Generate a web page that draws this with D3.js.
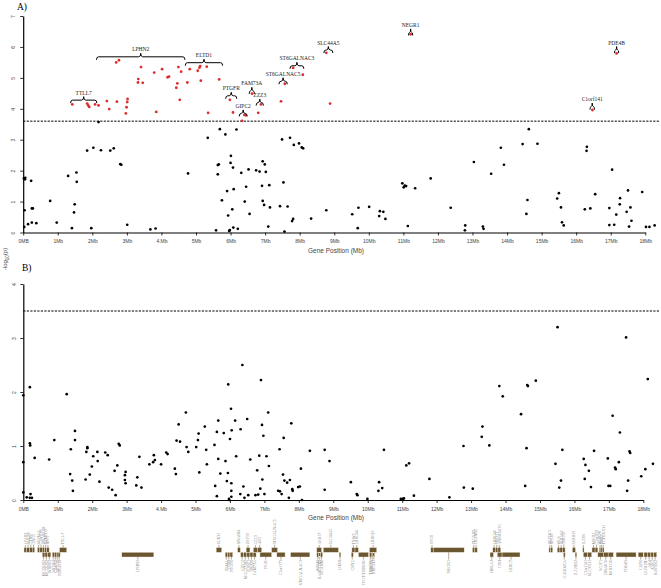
<!DOCTYPE html>
<html>
<head>
<meta charset="utf-8">
<script src="https://cdn.jsdelivr.net/npm/d3@7"></script>
<style>
body { margin: 0; background: #fff; }
svg { display: block; }
.tick text { font-family: "Liberation Sans", Arial, sans-serif; font-size: 5px; fill: #444; }
</style>
</head>
<body>
<svg id="chart" width="661" height="588"></svg>
<script>
// x tick values and their labels (as printed in the figure)
const xTickValues = [0,1,2,3,4,5,6,7,8,9,10,11,12,13,14,15,16,17,18];
const xTickLabels = ["0MB","1Mb","2Mb","3Mb","4.Mb","5Mb","6Mb","7Mb","8Mb","9Mb","10Mb","11Mb","12Mb","13Mb","14Mb","15Mb","16Mb","17Mb","18Mb"];
const yTicksA = [0,1,2,3,4,5,6,7];
const yTicksB = [0,1,2,3,4];
const threshA = 3.6;
const threshB = 3.5;

// panel A: SNPs above threshold (red) [position Mb, -log10 p]
const sigA = [[1.42,4.14],[1.85,4.17],[1.88,4.11],[1.91,4.06],[2.08,4.14],[2.18,4.11],[2.42,4.25],[2.49,3.99],[2.71,4.23],[2.69,5.50],
  [2.77,5.57],[2.97,3.85],[2.99,4.05],[3.02,4.32],[3.01,4.22],[3.41,5.35],[3.33,4.96],[3.32,4.85],[3.46,4.84],[3.79,5.17],
  [3.85,3.90],[4.02,5.28],[4.18,5.02],[4.22,5.04],[4.46,4.82],[4.43,4.68],[4.49,5.35],[4.57,5.20],[4.53,4.29],[4.75,4.85],
  [4.82,5.28],[5.05,5.23],[5.10,5.33],[5.12,5.38],[5.31,5.36],[5.14,4.91],[5.35,3.87],[5.67,4.95],[5.98,4.29],[6.07,3.88],
  [6.40,3.80],[6.44,3.79],[6.33,3.61],[6.62,4.49],[6.80,3.87],[6.88,4.14],[7.46,4.24],[7.57,4.81],[7.81,5.32],[8.09,5.10],
  [8.77,5.81],[8.88,4.17],[11.21,6.41],[17.17,5.79],[16.47,3.96]];

// panel A: other SNPs (black)
const otherA = [[2.18,3.57],[5.34,3.06],[5.69,3.34],[5.85,3.17],[6.17,3.33],[7.49,3.01],[7.72,3.06],[14.63,3.34],
  [0.02,1.75],[0.05,1.72],[0.06,1.77],[0.04,0.72],[0.03,0.18],[0.14,0.27],[0.23,1.67],[0.25,0.78],[0.28,0.78],[0.25,0.32],
  [0.38,0.30],[0.78,1.02],[0.97,0.32],[1.30,1.83],[1.41,0.14],[1.47,0.65],[1.49,0.91],[1.54,1.94],[1.55,1.64],[1.85,2.65],
  [1.97,0.14],[2.03,2.74],[2.25,2.66],[2.52,2.65],[2.62,2.72],[2.81,2.21],[2.84,2.19],[3.01,0.25],[3.68,0.10],[3.83,0.13],
  [4.77,1.91],[5.58,0.07],[5.63,2.18],[5.66,2.20],[5.63,1.88],[5.75,1.04],[5.90,1.34],[5.93,0.55],[5.96,0.05],[5.98,0.08],
  [6.01,2.48],[6.00,2.25],[6.05,0.75],[6.07,2.10],[6.08,0.16],[6.09,1.40],[6.21,0.12],[6.31,1.93],[6.41,1.00],[6.45,1.48],
  [6.52,2.04],[6.55,0.60],[6.74,2.01],[6.84,1.97],[6.93,2.30],[6.99,2.20],[7.02,1.96],[6.91,1.51],[6.93,1.02],[6.97,0.89],
  [7.09,0.19],[7.12,1.53],[7.14,0.81],[7.53,1.62],[7.56,0.03],[7.43,0.85],[7.65,0.84],[7.78,0.37],[7.81,0.44],[7.83,2.83],
  [7.98,2.88],[8.06,2.75],[8.10,2.72],[8.33,0.45],[8.77,0.72],[9.52,0.59],[9.70,0.80],[9.68,0.14],[10.01,0.83],[10.30,0.53],
  [10.32,0.69],[10.42,0.67],[10.48,0.44],[10.97,1.59],[11.01,1.46],[11.04,1.52],[11.08,1.50],[11.13,0.21],[11.34,1.43],[11.79,1.75],
  [12.37,0.80],[12.78,0.07],[12.79,0.23],[13.04,2.28],[13.30,0.19],[13.32,0.12],[13.54,1.90],[13.82,2.74],[13.91,2.19],[14.45,2.86],
  [14.56,0.60],[14.59,1.05],[14.88,2.87],[15.45,1.10],[15.50,1.27],[15.56,0.81],[15.59,0.33],[15.64,0.23],[16.25,0.75],[16.31,2.77],
  [16.30,2.64],[16.41,0.78],[16.55,1.24],[16.96,0.79],[16.96,0.24],[17.04,2.03],[17.10,0.25],[17.16,0.58],[17.27,1.11],[17.26,0.91],
  [17.46,0.67],[17.50,1.36],[17.53,0.19],[17.57,0.81],[17.60,0.38],[17.91,1.31],[18.02,0.18],[18.12,0.18],[18.27,0.23]];

// panel B: conditional analysis
const condB = [[0.00,1.94],[0.00,0.70],[0.00,0.14],[0.10,0.05],[0.19,2.09],[0.19,1.05],[0.20,1.01],[0.21,0.11],[0.19,0.04],[0.25,0.04],
  [0.33,0.78],[0.75,0.75],[0.90,1.11],[1.26,1.96],[1.38,0.94],[1.36,0.48],[1.42,0.36],[1.44,0.17],[1.50,1.28],[1.50,1.11],
  [1.81,0.38],[1.83,0.89],[1.86,0.98],[1.86,0.96],[1.93,0.47],[1.99,0.62],[2.03,0.81],[2.15,0.89],[2.16,0.72],[2.21,0.34],
  [2.38,0.88],[2.45,0.83],[2.48,0.23],[2.58,0.19],[2.65,0.54],[2.68,0.09],[2.73,0.64],[2.77,1.04],[2.80,1.01],[2.95,0.46],
  [2.95,0.37],[2.97,0.31],[2.97,0.52],[3.28,0.27],[3.31,0.42],[3.37,0.80],[3.43,0.23],[3.66,0.66],[3.77,0.70],[3.79,0.83],
  [3.82,0.74],[4.00,0.66],[4.15,0.88],[4.19,0.85],[4.40,0.58],[4.43,0.48],[4.45,1.10],[4.51,1.40],[4.55,1.08],[4.72,1.62],
  [4.74,0.98],[4.79,0.89],[5.02,0.98],[5.07,1.11],[5.09,1.23],[5.11,0.51],[5.27,1.36],[5.31,0.93],[5.33,0.66],[5.55,1.02],
  [5.57,0.26],[5.62,1.26],[5.62,0.07],[5.66,0.76],[5.66,1.47],[5.72,0.49],[5.82,1.24],[5.87,0.72],[5.91,0.35],[5.94,0.50],
  [5.95,2.14],[5.97,0.02],[5.98,0.00],[6.00,1.13],[6.03,1.69],[6.05,1.29],[6.04,0.31],[6.04,0.17],[6.04,0.06],[6.15,1.47],
  [6.18,0.81],[6.30,0.11],[6.31,1.31],[6.36,2.50],[6.39,0.25],[6.42,0.04],[6.50,1.50],[6.53,0.09],[6.59,0.75],[6.74,0.09],
  [6.79,0.55],[6.82,0.10],[6.85,0.82],[6.88,0.21],[6.90,2.22],[6.93,1.39],[6.94,0.38],[6.97,1.19],[7.00,0.11],[7.06,0.81],
  [7.11,1.62],[7.13,0.63],[7.40,0.17],[7.45,0.16],[7.44,0.94],[7.50,0.11],[7.54,0.47],[7.56,1.15],[7.58,0.36],[7.66,0.32],
  [7.71,0.04],[7.74,0.37],[7.78,1.42],[7.81,0.20],[7.82,0.17],[7.98,0.24],[8.03,0.25],[8.06,0.58],[8.09,0.00],[8.32,0.91],
  [8.75,0.93],[8.75,0.19],[8.89,0.72],[9.51,0.33],[9.68,0.11],[9.70,0.09],[9.99,0.02],[10.31,0.17],[10.33,0.33],[10.42,0.22],
  [10.47,0.93],[10.96,0.02],[11.02,0.02],[11.05,0.03],[11.12,0.64],[11.20,0.68],[11.34,0.08],[11.79,0.39],[12.37,0.05],[12.78,1.00],
  [12.79,0.23],[13.05,0.21],[13.31,1.17],[13.33,1.36],[13.53,1.01],[13.82,2.11],[13.92,1.92],[14.45,1.59],[14.57,0.26],[14.61,0.96],
  [14.63,2.13],[14.65,2.11],[14.88,2.21],[15.45,0.67],[15.51,3.20],[15.56,0.23],[15.61,0.36],[15.65,0.93],[16.27,0.76],[16.30,0.39],
  [16.32,0.65],[16.42,0.54],[16.48,0.24],[16.57,0.91],[16.97,0.77],[16.99,0.26],[17.04,0.26],[17.11,1.56],[17.18,0.60],[17.20,0.57],
  [17.29,0.70],[17.32,1.25],[17.50,3.01],[17.53,0.17],[17.56,0.36],[17.60,0.90],[17.62,0.87],[17.94,0.44],[18.06,0.57],[18.13,2.24],
  [18.28,0.67]];

// gene annotations in panel A: name, span (Mb), bracket level (-log10 p)
const annotGenes = ["TTLL7","LPHN2","ELTD1","PTGFR","GIPC2","FAM73A","ZZZ3","ST6GALNAC5","ST6GALNAC3","SLC44A5","NEGR1","C1orf141","PDE4B"];
const annotStart = [1.37,2.12,4.69,5.86,6.25,6.54,6.74,7.40,7.72,8.70,11.15,16.40,17.11];
const annotEnd   = [2.13,4.68,5.77,6.18,6.48,6.69,6.95,7.64,8.12,8.96,11.27,16.53,17.23];
const annotLevel = [4.28,5.68,5.49,4.42,3.85,4.58,4.20,4.89,5.39,5.90,6.47,4.07,5.90];

// gene track: name, start, end, row (0 upper, 1 lower), label side
const genes = [
  ["LPAR3",0.02,0.10,0,"up"],["SSX2IP",0.10,0.18,0,"up"],["CTBS",0.18,0.26,0,"up"],["GNG5",0.26,0.33,0,"up"],
  ["SPATA1",0.41,0.48,0,"up"],["C1orf180",0.48,0.55,0,"up"],["DNASE2B",0.55,0.62,0,"up"],["SAMD13",0.62,0.68,0,"up"],["RPF1",0.68,0.75,0,"up"],
  ["MCOLN2",0.55,0.63,1,"down"],["MCOLN3",0.63,0.71,1,"down"],["WDR63",0.71,0.80,1,"down"],
  ["SYDE2",0.84,0.90,1,"down"],["C1orf52",0.90,0.96,1,"down"],["BCL10",0.96,1.01,1,"down"],["PRKACB",1.01,1.07,1,"down"],
  ["TTLL7",1.05,1.26,0,"up"],["LPHN2",2.86,3.79,1,"down"],["ELTD1",5.60,5.76,0,"up"],
  ["IFI44L",5.86,5.93,1,"down"],["IFI44",5.93,6.00,1,"down"],["PTGFR",6.00,6.08,1,"down"],
  ["DNAJB4",6.22,6.30,0,"up"],["GIPC2",6.31,6.40,1,"down"],["MGC27382",6.40,6.49,1,"down"],["FUBP1",6.49,6.58,1,"down"],
  ["NEXN",6.58,6.67,1,"down"],["FAM73A",6.67,6.76,1,"down"],["USP33",6.47,6.58,0,"up"],["ZZZ3",6.68,6.80,0,"up"],["AK5",6.80,6.92,0,"up"],
  ["PIGK",6.87,7.21,1,"down"],["ST6GALNAC5",7.21,7.38,0,"up"],["C1orf173",7.36,7.60,1,"down"],["ST6GALNAC3",7.76,8.32,1,"down"],
  ["ASB17",8.52,8.66,0,"up"],["MSH4",8.52,8.58,1,"down"],["RABGGTB",8.58,8.63,1,"down"],["ACADM",8.63,8.69,1,"down"],
  ["SLC44A5",8.71,9.15,0,"up"],["LHX8",9.17,9.22,1,"down"],["CRYZ",9.52,9.58,1,"down"],["TYW3",9.54,9.63,0,"up"],["LRRC44",9.63,9.73,0,"up"],
  ["FPGT-TNNI3K",9.73,10.02,1,"down"],["LRRIQ3",10.05,10.26,0,"up"],["TNNI3K",10.05,10.10,1,"down"],["LRRC53",10.10,10.15,1,"down"],
  ["ERICH3",10.15,10.20,1,"down"],["FPGT",11.83,11.90,0,"up"],["NEGR1",11.90,12.80,0,"down"],
  ["PTGER3",13.04,13.11,0,"up"],["ZRANB2",13.11,13.18,0,"up"],["LRRC40",13.63,13.71,0,"up"],["SRSF11",13.71,13.78,0,"up"],
  ["ANKRD13C",13.78,13.86,0,"up"],["HHLA3",13.55,13.65,1,"down"],["CTH",13.76,13.90,1,"down"],["LRRC7",13.90,14.42,1,"down"],
  ["DEPDC1",15.26,15.31,0,"up"],["RPE65",15.31,15.37,0,"up"],["WLS",15.50,15.58,0,"up"],["DIRAS3",15.58,15.65,0,"up"],
  ["GNG12",15.65,15.73,0,"up"],["GADD45A",15.68,15.73,1,"down"],["SERBP1",15.94,16.03,0,"up"],["IL12RB2",16.02,16.07,1,"down"],
  ["IL23R",16.24,16.28,0,"up"],["C1orf141",16.26,16.38,1,"down"],["SLC35D1",16.38,16.50,1,"down"],["MIER1",16.51,16.60,0,"up"],
  ["C1orf191",16.60,16.68,0,"up"],["WDR78",16.72,16.77,0,"up"],["INSL5",16.77,16.81,0,"up"],["TCTEX1D1",16.81,16.86,0,"up"],
  ["SGIP1",16.68,16.84,1,"down"],["DNAJC6",16.84,16.98,1,"down"],["MIR3116",16.98,17.13,1,"down"],["PDE4B",17.21,17.79,1,"down"],
  ["LEPR",17.85,18.00,1,"down"],["LEPROT",18.02,18.12,1,"down"],["AK4",18.12,18.22,1,"down"],["JAK1",18.22,18.30,1,"down"],
  ["RAVER2",18.30,18.39,1,"down"]
];

const svg = d3.select("#chart");
svg.append("rect").attr("width", 661).attr("height", 588).attr("fill", "#fff");

const xA = d3.scaleLinear().domain([0, 18]).range([23.2, 645.3]);
const yA = d3.scaleLinear().domain([0, 7]).range([232.5, 16]);
const xB = d3.scaleLinear().domain([0, 18]).range([23.3, 643.3]);
const yB = d3.scaleLinear().domain([0, 4]).range([500, 284]);

const sans = '"Liberation Sans", Arial, sans-serif';
const serif = '"Liberation Serif", "Times New Roman", serif';

// axes for one panel
function drawAxes(x, y, yTicks) {
    const gx = svg.append("g")
        .attr("transform", `translate(0,${y(0)})`)
        .call(d3.axisBottom(x).tickValues(xTickValues)
            .tickFormat((d, i) => xTickLabels[i])
            .tickSize(3).tickSizeOuter(0).tickPadding(4));
    const gy = svg.append("g")
        .attr("transform", `translate(${x(0)},0)`)
        .call(d3.axisLeft(y).tickValues(yTicks).tickFormat(d3.format("d"))
            .tickSize(3).tickSizeOuter(0));
    gy.selectAll(".tick text")
        .attr("x", 0).attr("dy", "0.35em")
        .attr("text-anchor", "middle")
        .attr("transform", "translate(-9.5,0) rotate(-90)");
    [gx, gy].forEach(g => {
        g.select(".domain").attr("stroke", "#000").attr("stroke-width", 1.2);
        g.selectAll(".tick line").attr("stroke", "#000").attr("stroke-width", 0.8);
    });
}

drawAxes(xA, yA, yTicksA);
drawAxes(xB, yB, yTicksB);

// significance lines
svg.append("line")
    .attr("x1", xA(0)).attr("x2", 660)
    .attr("y1", yA(threshA)).attr("y2", yA(threshA))
    .attr("stroke", "#000").attr("stroke-width", 1).attr("stroke-dasharray", "2.2,1.3");
svg.append("line")
    .attr("x1", xB(0)).attr("x2", 660)
    .attr("y1", yB(threshB)).attr("y2", yB(threshB))
    .attr("stroke", "#000").attr("stroke-width", 1).attr("stroke-dasharray", "2.2,1.3");

// points
svg.append("g").selectAll("circle").data(otherA).join("circle")
    .attr("cx", d => xA(d[0])).attr("cy", d => yA(d[1])).attr("r", 1.35).attr("fill", "#000");
svg.append("g").selectAll("circle").data(sigA).join("circle")
    .attr("cx", d => xA(d[0])).attr("cy", d => yA(d[1])).attr("r", 1.4).attr("fill", "#dd2e2e");
svg.append("g").selectAll("circle").data(condB).join("circle")
    .attr("cx", d => xB(d[0])).attr("cy", d => yB(d[1])).attr("r", 1.35).attr("fill", "#000");

// brackets over annotated genes
function bracketPath(x0, x1, yb) {
    const mid = (x0 + x1) / 2;
    const r = Math.min(2, (x1 - x0) / 4);
    return `M${x0},${yb + 3} Q${x0},${yb} ${x0 + r},${yb} L${mid - r},${yb} Q${mid},${yb} ${mid},${yb - 3.5}` +
        ` Q${mid},${yb} ${mid + r},${yb} L${x1 - r},${yb} Q${x1},${yb} ${x1},${yb + 3}`;
}
const annot = svg.append("g");
annotGenes.forEach((g, i) => {
    const x0 = xA(annotStart[i]), x1 = xA(annotEnd[i]), yb = yA(annotLevel[i]);
    annot.append("path").attr("d", bracketPath(x0, x1, yb))
        .attr("fill", "none").attr("stroke", "#000").attr("stroke-width", 1);
    annot.append("text")
        .attr("x", (x0 + x1) / 2).attr("y", yb - 5.5)
        .attr("text-anchor", "middle")
        .attr("font-family", serif).attr("font-size", "5.5px").attr("fill", "#222")
        .text(g);
});

// panel letters and axis titles
svg.append("text").attr("x", 17).attr("y", 10).attr("font-family", serif).attr("font-size", "9.5px").text("A)");
svg.append("text").attr("x", 22).attr("y", 271).attr("font-family", serif).attr("font-size", "9.5px").text("B)");

[[250.7], [517.7]].forEach(([yy]) => {
    svg.append("text").attr("x", 336).attr("y", yy).attr("dy", "0.35em")
        .attr("text-anchor", "middle").attr("font-family", sans).attr("font-size", "6.5px").attr("fill", "#444")
        .text("Gene Position (Mb)");
});

const ylab = svg.append("text")
    .attr("transform", "translate(7,259) rotate(-90)")
    .attr("text-anchor", "middle").attr("font-family", sans).attr("font-size", "6px").attr("fill", "#444");
ylab.append("tspan").text("-log");
ylab.append("tspan").attr("font-size", "4.5px").attr("dy", "1.5").text("10");
ylab.append("tspan").attr("dy", "-1.5").text("(p)");

// gene track
const rowY = [547.6, 552.3];
const rowH = 4.7;
const track = svg.append("g");
track.selectAll("rect").data(genes).join("rect")
    .attr("x", d => xB(d[1])).attr("width", d => Math.max(1, xB(d[2]) - xB(d[1])))
    .attr("y", d => rowY[d[3]]).attr("height", rowH)
    .attr("fill", "#6b5632").attr("stroke", "#f2ead6").attr("stroke-width", 0.4);

genes.forEach(d => {
    const cx = (xB(d[1]) + xB(d[2])) / 2;
    if (d[4] === "up") {
        track.append("line").attr("x1", cx).attr("x2", cx)
            .attr("y1", rowY[d[3]]).attr("y2", rowY[d[3]] - 2.6)
            .attr("stroke", "#6b5632").attr("stroke-width", 0.5);
        track.append("text")
            .attr("transform", `translate(${cx},${rowY[d[3]] - 3}) rotate(-90)`)
            .attr("dy", "0.35em").attr("text-anchor", "start")
            .attr("font-family", serif).attr("font-size", "4px").attr("fill", "#888")
            .text(d[0]);
    } else {
        const yb = rowY[1] + rowH;
        track.append("line").attr("x1", cx).attr("x2", cx)
            .attr("y1", rowY[d[3]] + rowH).attr("y2", yb + 2.6)
            .attr("stroke", "#6b5632").attr("stroke-width", 0.5);
        track.append("text")
            .attr("transform", `translate(${cx},${yb + 3}) rotate(-90)`)
            .attr("dy", "0.35em").attr("text-anchor", "end")
            .attr("font-family", serif).attr("font-size", "4px").attr("fill", "#888")
            .text(d[0]);
    }
});
</script>
</body>
</html>
